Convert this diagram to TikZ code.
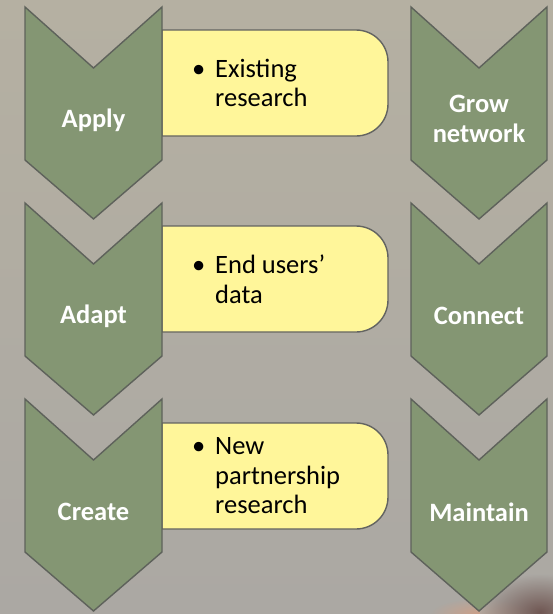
\documentclass[tikz,border=0pt]{standalone}
\usepackage{fontspec}
\setmainfont{Carlito}
\definecolor{chevfill}{HTML}{849673}
\definecolor{chevline}{HTML}{5E625B}
\definecolor{boxfill}{HTML}{FFF69A}
\definecolor{boxline}{HTML}{636461}
\definecolor{bgtop}{HTML}{B5B0A2}
\definecolor{bgbot}{HTML}{ABA8A3}
\definecolor{smoke}{HTML}{5C3C38}
\definecolor{glow}{HTML}{E39A76}
\tikzset{
  chev/.style={draw=chevline, fill=chevfill, line width=1.4pt, line join=miter},
  yelbox/.style={draw=boxline, fill=boxfill, line width=1.4pt},
  chevtext/.style={text=white, font=\fontsize{26.5}{30}\selectfont\bfseries, align=center, inner sep=0pt},
  boxtext/.style={text=black, font=\fontsize{26.5}{29.5}\selectfont, align=left, anchor=west, inner sep=0pt}
}
\newcommand{\bul}{\makebox[23pt][l]{\textbullet}}
\newcommand{\ind}{\hspace*{23pt}}
\begin{document}
\begin{tikzpicture}[x=1pt, y=-1pt]
% background
\shade[top color=bgtop, bottom color=bgbot] (0,0) rectangle (553,614);
\useasboundingbox (0,0) rectangle (553,614);
\shade[inner color=glow, outer color=bgbot, opacity=0.6] (480,614) ellipse (50 and 16);
\shade[inner color=smoke, outer color=bgbot, opacity=0.75] (540,612) ellipse (60 and 38);
% yellow boxes
\draw[yelbox] (162,30) -- (356,30) arc[start angle=-90, end angle=0, radius=32] -- (388,104) arc[start angle=0, end angle=90, radius=32] -- (162,136) -- cycle;
\draw[yelbox] (162,226) -- (356,226) arc[start angle=-90, end angle=0, radius=32] -- (388,300) arc[start angle=0, end angle=90, radius=32] -- (162,332) -- cycle;
\draw[yelbox] (162,423) -- (356,423) arc[start angle=-90, end angle=0, radius=32] -- (388,497) arc[start angle=0, end angle=90, radius=32] -- (162,529) -- cycle;
\node[boxtext] (existing) at (192,83) {\bul Existing\\\ind research};
\node[boxtext] (enduser) at (192,279) {\bul End users’\\\ind data};
\node[boxtext] (newres) at (192,476) {\bul New\\\ind partnership\\\ind research};
% left chevrons
\draw[chev] (25,7) -- (93.5,68) -- (162,7) -- (162,160) -- (93.5,219) -- (25,160) -- cycle;
\draw[chev] (25,203) -- (93.5,264) -- (162,203) -- (162,356) -- (93.5,415) -- (25,356) -- cycle;
\draw[chev] (25,399) -- (93.5,460) -- (162,399) -- (162,552) -- (93.5,611) -- (25,552) -- cycle;
\node[chevtext] (apply) at (93.5,120) {Apply};
\node[chevtext] (adapt) at (93.5,316) {Adapt};
\node[chevtext] (create) at (93.5,512) {Create};
% right chevrons
\draw[chev] (411,7) -- (479,68) -- (547,7) -- (547,160) -- (479,219) -- (411,160) -- cycle;
\draw[chev] (411,203) -- (479,264) -- (547,203) -- (547,356) -- (479,415) -- (411,356) -- cycle;
\draw[chev] (411,399) -- (479,460) -- (547,399) -- (547,552) -- (479,611) -- (411,552) -- cycle;
\node[chevtext] (grow) at (479,119) {Grow\\network};
\node[chevtext] (connect) at (479,316) {Connect};
\node[chevtext] (maintain) at (479,512) {Maintain};
\end{tikzpicture}
\end{document}
